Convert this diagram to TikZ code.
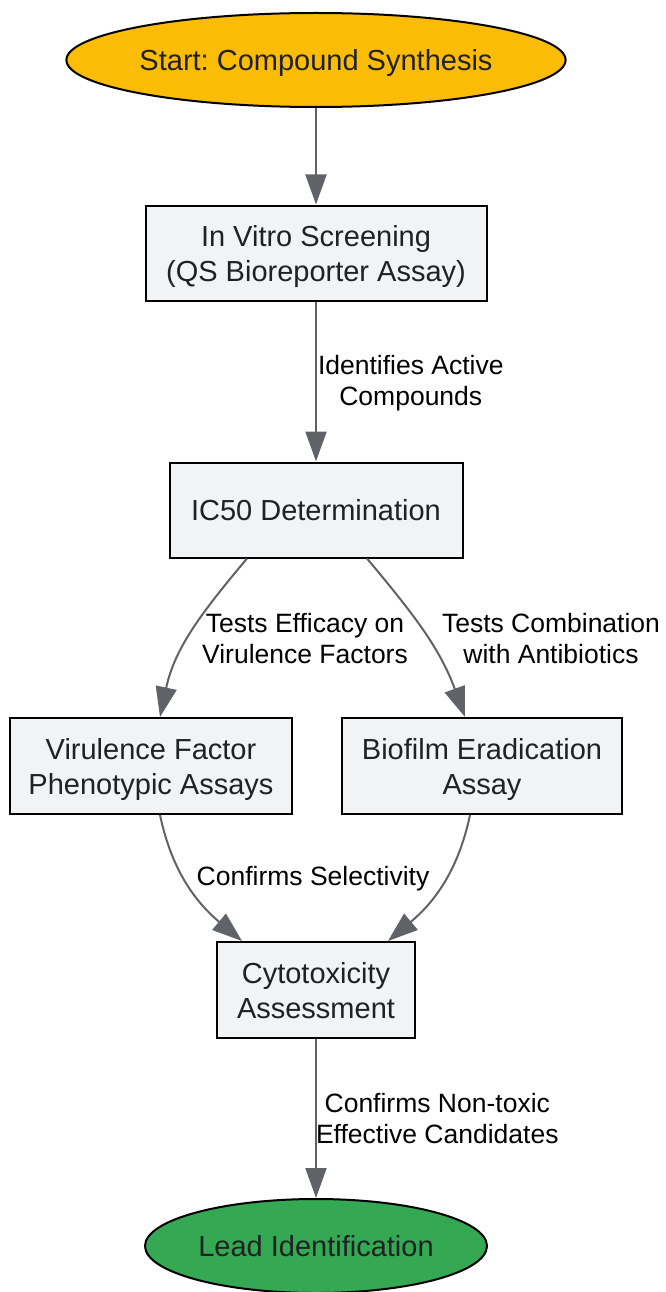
\documentclass[tikz,border=0pt]{standalone}
\usepackage{fontspec}
\setmainfont{Liberation Sans}
\frenchspacing
\usetikzlibrary{shapes.geometric,arrows.meta}
\definecolor{cstart}{RGB}{251,188,5}
\definecolor{clead}{RGB}{52,168,83}
\definecolor{cbox}{RGB}{241,243,244}
\definecolor{cedge}{RGB}{95,99,104}
\definecolor{ctext}{RGB}{32,33,36}
\tikzset{
  stepbox/.style={draw=black,line width=2pt,fill=cbox,text=ctext,align=center,
    inner sep=0pt,text depth=0pt,font=\fontsize{29}{35}\selectfont},
  terminal/.style={ellipse,draw=black,line width=2pt,text=ctext,inner sep=0pt,
    text depth=0pt,minimum height=94pt,font=\fontsize{29}{35}\selectfont},
  flow/.style={draw=cedge,line width=2pt,-{Triangle[length=30pt,width=21pt]}},
  lbl/.style={align=center,text=black,inner sep=1pt,font=\fontsize{26.5}{31}\selectfont}
}

\begin{document}
\begin{tikzpicture}[x=1pt,y=-1pt]
  \useasboundingbox (0,0) rectangle (665,1292);
  % nodes
  \node[terminal,fill=cstart,minimum width=493pt] (start) at (316,60) {Start: Compound Synthesis};
  \node[stepbox,minimum width=341pt,minimum height=95pt] (screen) at (316,253) {In Vitro Screening\\(QS Bioreporter Assay)};
  \node[stepbox,minimum width=293pt,minimum height=95pt] (ic50) at (316,510) {IC50 Determination};
  \node[stepbox,minimum width=282pt,minimum height=96pt] (vir) at (151,766) {Virulence Factor\\Phenotypic Assays};
  \node[stepbox,minimum width=280pt,minimum height=96pt] (bio) at (482,766) {Biofilm Eradication\\Assay};
  \node[stepbox,minimum width=198pt,minimum height=96pt] (cyto) at (316,990) {Cytotoxicity\\Assessment};
  \node[terminal,fill=clead,minimum width=342pt] (lead) at (316,1246) {Lead Identification};
  % connectors
  \draw[flow] (start) -- (screen);
  \draw[flow] (screen) -- node[lbl,right,pos=0.51] (l1) {Identifies Active\\Compounds} (ic50);
  \draw[flow] ([xshift=-69pt]ic50.south) to[out=-130,in=78] ([xshift=9pt]vir.north);
  \draw[flow] ([xshift=51pt]ic50.south) to[out=-50,in=110] ([xshift=-17pt]bio.north);
  \draw[flow] ([xshift=9pt]vir.south) to[out=-78,in=140] ([xshift=-74pt]cyto.north);
  \draw[flow] ([xshift=-12pt]bio.south) to[out=-102,in=40] ([xshift=72pt]cyto.north);
  \draw[flow] (cyto) -- node[lbl,right,pos=0.5,xshift=-2pt] (l5) {Confirms Non-toxic\\Effective Candidates} (lead);
  % labels on curved connectors
  \node[lbl] (l2) at (305,639) {Tests Efficacy on\\Virulence Factors};
  \node[lbl] (l3) at (551,639) {Tests Combination\\with Antibiotics};
  \node[lbl] (l4) at (313,879) {Confirms Selectivity};
\end{tikzpicture}
\end{document}
